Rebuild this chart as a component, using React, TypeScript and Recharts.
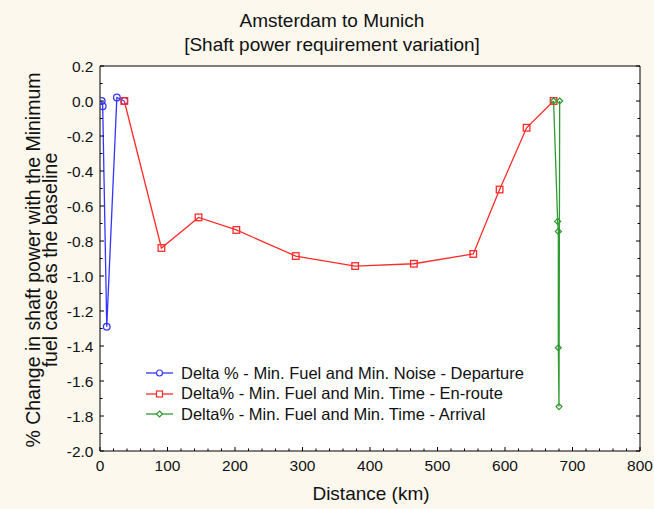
import { CartesianGrid, Line, LineChart, XAxis, YAxis } from "recharts";

/* ===== Data ===== */
const departureDistance = [2.5, 4, 10, 25, 36];
const departureDelta = [0.0, -0.03, -1.29, 0.02, 0.0];

const enrouteDistance = [36, 91, 146, 202, 290, 378, 465, 553, 592, 632, 672];
const enrouteDelta = [0.0, -0.84, -0.665, -0.737, -0.886, -0.943, -0.93, -0.874, -0.506, -0.153, 0.0];

const arrivalDistance = [672, 678, 679, 679, 680, 681];
const arrivalDelta = [0.0, -0.688, -0.745, -1.41, -1.746, 0.0];

const xMajorTicks = [0, 100, 200, 300, 400, 500, 600, 700, 800];
const yMajorTicks = [0.2, 0.0, -0.2, -0.4, -0.6, -0.8, -1.0, -1.2, -1.4, -1.6, -1.8, -2.0];

const seriesNames = [
  "Delta % - Min. Fuel and Min. Noise - Departure",
  "Delta% - Min. Fuel and Min. Time - En-route",
  "Delta% - Min. Fuel and Min. Time - Arrival",
];

/* ===== Styles ===== */
const BLUE = "#3434ff";
const RED = "#ff2b2b";
const GREEN = "#2f9a2f";
const FONT = "'Liberation Sans', Arial, sans-serif";
const BG = "#fdf8ee";

const toPoints = (xs: number[], ys: number[]) => xs.map((x, i) => ({ x, y: ys[i] }));
const departure = toPoints(departureDistance, departureDelta);
const enroute = toPoints(enrouteDistance, enrouteDelta);
const arrival = toPoints(arrivalDistance, arrivalDelta);

// minor ticks between majors
const subdivide = (major: number[], parts: number) => {
  const out: number[] = [];
  for (let i = 0; i < major.length - 1; i++) {
    const a = major[i];
    const b = major[i + 1];
    for (let k = 0; k < parts; k++) out.push(Math.round((a + ((b - a) * k) / parts) * 1000) / 1000);
  }
  out.push(major[major.length - 1]);
  return out;
};
const xBottomTicks = subdivide(xMajorTicks, 5);
const xTopTicks = subdivide(xMajorTicks, 20);
const yTicks = subdivide([...yMajorTicks].reverse(), 2);

const isMajor = (v: number, list: number[]) => list.some((m) => Math.abs(m - v) < 1e-6);

/* ===== Ticks ===== */
const BottomTick = ({ x, y, payload }: any) => {
  const major = isMajor(payload.value, xMajorTicks);
  return (
    <g>
      <line x1={x} y1={y} x2={x} y2={y - (major ? 4 : 2.5)} stroke="#000" />
      {major && (
        <text x={x} y={y + 19.5} textAnchor="middle" fontSize={15.5} fontFamily={FONT} fill="#111">
          {payload.value}
        </text>
      )}
    </g>
  );
};

const TopTick = ({ x, y, payload }: any) => {
  const major = isMajor(payload.value, xMajorTicks);
  return <line x1={x} y1={y} x2={x} y2={y + (major ? 4 : 2.5)} stroke="#000" />;
};

const LeftTick = ({ x, y, payload }: any) => {
  const major = isMajor(payload.value, yMajorTicks);
  return (
    <g>
      <line x1={x} y1={y} x2={x + (major ? 4 : 2.5)} y2={y} stroke="#000" />
      {major && (
        <text x={x - 6.5} y={y + 5.5} textAnchor="end" fontSize={15.5} fontFamily={FONT} fill="#111">
          {payload.value.toFixed(1)}
        </text>
      )}
    </g>
  );
};

const RightTick = ({ x, y, payload }: any) => {
  const major = isMajor(payload.value, yMajorTicks);
  return <line x1={x} y1={y} x2={x - (major ? 4 : 2.5)} y2={y} stroke="#000" />;
};

/* ===== Markers ===== */
const CircleDot = (props: any) => (
  <circle key={props.index} cx={props.cx} cy={props.cy} r={3.3} fill="none" stroke={BLUE} strokeWidth={1.3} />
);
const SquareDot = (props: any) => (
  <rect key={props.index} x={props.cx - 3.3} y={props.cy - 3.3} width={6.6} height={6.6} fill="none" stroke={RED} strokeWidth={1.3} />
);
const DiamondDot = (props: any) => {
  const { cx, cy } = props;
  return (
    <polygon
      key={props.index}
      points={`${cx},${cy - 3} ${cx + 3},${cy} ${cx},${cy + 3} ${cx - 3},${cy}`}
      fill="none"
      stroke={GREEN}
      strokeWidth={1.2}
    />
  );
};

const LegendMarker = ({ color, kind }: { color: string; kind: string }) => (
  <svg width={28} height={12} style={{ display: "block" }}>
    <line x1={0} y1={6} x2={27} y2={6} stroke={color} strokeWidth={1.3} />
    {kind === "circle" && <circle cx={13.5} cy={6} r={3} fill="#fff" stroke={color} strokeWidth={1.2} />}
    {kind === "square" && <rect x={10.5} y={3} width={6} height={6} fill="#fff" stroke={color} strokeWidth={1.2} />}
    {kind === "diamond" && (
      <polygon points="13.5,3 16.5,6 13.5,9 10.5,6" fill="#fff" stroke={color} strokeWidth={1.2} />
    )}
  </svg>
);

export default function App() {
  const legendItems = [
    { name: seriesNames[0], color: BLUE, kind: "circle" },
    { name: seriesNames[1], color: RED, kind: "square" },
    { name: seriesNames[2], color: GREEN, kind: "diamond" },
  ];

  return (
    <div style={{ position: "absolute", left: 0, top: 0, width: 654, height: 509, background: BG }}>
      <LineChart width={654} height={509} margin={{ top: 65, right: 13, bottom: 57, left: 99 }}>
        <CartesianGrid fill="#fff" horizontal={false} vertical={false} />
        <XAxis
          dataKey="x"
          type="number"
          domain={[0, 800]}
          ticks={xBottomTicks}
          interval={0}
          height={1}
          tickSize={0}
          tickMargin={0}
          tickLine={false}
          axisLine={{ stroke: "#000" }}
          tick={<BottomTick />}
          allowDataOverflow
        />
        <XAxis
          xAxisId="top"
          orientation="top"
          type="number"
          domain={[0, 800]}
          ticks={xTopTicks}
          interval={0}
          height={1}
          tickSize={0}
          tickMargin={0}
          tickLine={false}
          axisLine={{ stroke: "#000" }}
          tick={<TopTick />}
          allowDataOverflow
        />
        <YAxis
          type="number"
          domain={[-2, 0.2]}
          ticks={yTicks}
          interval={0}
          width={1}
          tickSize={0}
          tickMargin={0}
          tickLine={false}
          axisLine={{ stroke: "#000" }}
          tick={<LeftTick />}
          allowDataOverflow
        />
        <YAxis
          yAxisId="right"
          orientation="right"
          type="number"
          domain={[-2, 0.2]}
          ticks={yTicks}
          interval={0}
          width={1}
          tickSize={0}
          tickMargin={0}
          tickLine={false}
          axisLine={{ stroke: "#000" }}
          tick={<RightTick />}
          allowDataOverflow
        />

        <Line data={departure} dataKey="y" stroke={BLUE} strokeWidth={1.3} dot={CircleDot} activeDot={false} isAnimationActive={false} />
        <Line data={enroute} dataKey="y" stroke={RED} strokeWidth={1.3} dot={SquareDot} activeDot={false} isAnimationActive={false} />
        <Line data={arrival} dataKey="y" stroke={GREEN} strokeWidth={1.3} dot={DiamondDot} activeDot={false} isAnimationActive={false} />
      </LineChart>

      {/* Titles and axis labels */}
      <svg width={654} height={509} style={{ position: "absolute", left: 0, top: 0, pointerEvents: "none" }}>
        <g fontFamily={FONT} fill="#111" fontSize={19}>
          <text x={332} y={27} textAnchor="middle">Amsterdam to Munich</text>
          <text x={332} y={51} textAnchor="middle">[Shaft power requirement variation]</text>
          <text x={371} y={500} textAnchor="middle">Distance (km)</text>
          <text transform="translate(40,260) rotate(-90)" textAnchor="middle" fontSize={19.5}>
            % Change in shaft power with the Minimum
          </text>
          <text transform="translate(57,260) rotate(-90)" textAnchor="middle" fontSize={19.5}>
            fuel case as the baseline
          </text>
        </g>
      </svg>

      {/* Legend */}
      <div style={{ position: "absolute", left: 146, top: 363, fontFamily: FONT, fontSize: 16.5, color: "#111" }}>
        {legendItems.map((item) => (
          <div key={item.name} style={{ display: "flex", alignItems: "center", height: 20.5 }}>
            <LegendMarker color={item.color} kind={item.kind} />
            <span style={{ marginLeft: 7, whiteSpace: "nowrap" }}>{item.name}</span>
          </div>
        ))}
      </div>
    </div>
  );
}
